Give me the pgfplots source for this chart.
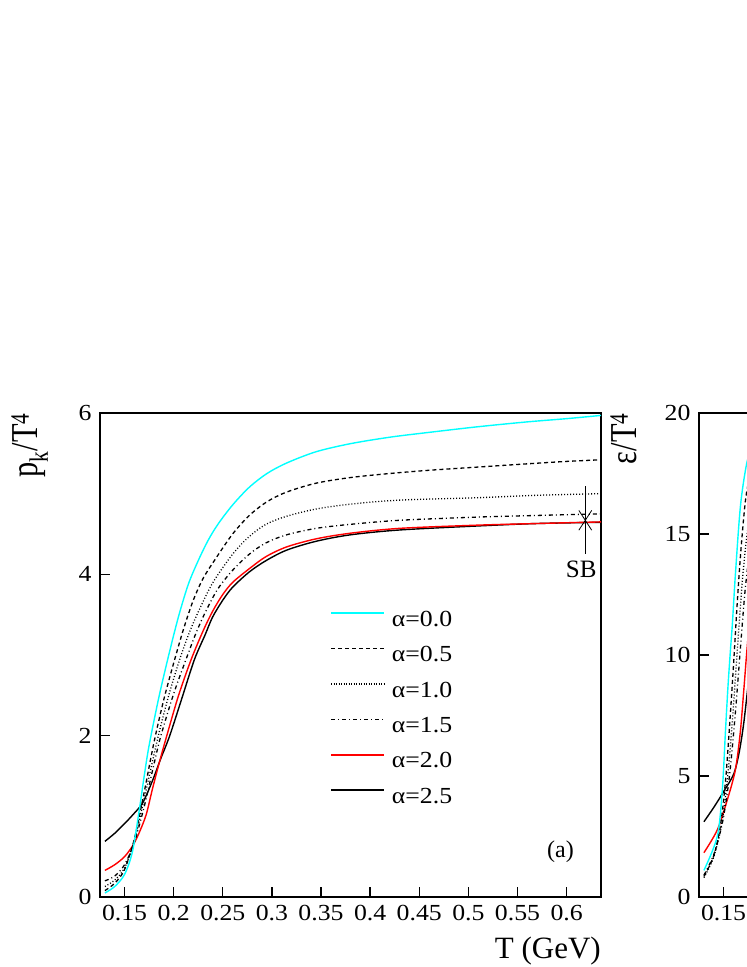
\documentclass[border=0pt]{standalone}
\usepackage{fontspec}
\setmainfont{Liberation Serif}
\newfontfamily\wide{Liberation Serif}[FakeStretch=1.12]
\newfontfamily\narrow{Liberation Serif}[FakeStretch=0.8]
\usepackage{pgfplots}
\pgfplotsset{compat=1.18}
\definecolor{pcyan}{RGB}{0,255,255}
\definecolor{pred}{RGB}{255,0,0}

\pgfplotsset{
  myax/.style={
    scale only axis, width=501pt, height=484pt,
    xmin=0.125, xmax=0.635,
    axis line style={line width=1.6pt},
    tick align=inside, xtick pos=left, ytick pos=left,
    major tick length=10pt,
    every tick/.style={line width=1.4pt, black},
    tick label style={font=\wide\fontsize{23}{23}\selectfont},
    xticklabel style={yshift=-5pt},
    yticklabel style={xshift=-5pt},
    xtick={0.15,0.2,0.25,0.3,0.35,0.4,0.45,0.5,0.55,0.6},
    xticklabels={0.15,0.2,0.25,0.3,0.35,0.4,0.45,0.5,0.55,0.6},
    minor tick num=0,
    clip=true,
    label style={inner sep=0pt},
    ylabel style={font=\narrow\fontsize{38}{38}\selectfont, at={(axis description cs:-0.124,1)}, anchor=base east},
    xlabel style={font=\fontsize{31}{31}\selectfont, at={(axis description cs:1,0)}, anchor=north east, yshift=-40pt},
  },
  c0/.style={pcyan, line width=1.4pt},
  c1/.style={black, line width=1.3pt, dash pattern=on 4pt off 3pt},
  c2/.style={black, line width=1.3pt, dash pattern=on 1pt off 2pt},
  c3/.style={black, line width=1.3pt, dash pattern=on 4pt off 3pt on 1pt off 3pt},
  c4/.style={pred, line width=1.4pt},
  c5/.style={black, line width=1.4pt},
}

\begin{document}
\begin{tikzpicture}
\useasboundingbox (0pt,0pt) rectangle (747pt,967pt);

% ---------------- panel (a) ----------------
\begin{axis}[myax, at={(100pt,70pt)}, anchor=south west,
  ymin=0, ymax=6, ytick={0,2,4,6}, yticklabels={0,2,4,6},
  xlabel={T (GeV)}, ylabel={p\textsubscript{k}/T\textsuperscript{4}},
  legend style={draw=none, fill=none, inner sep=0pt,
    at={(rel axis cs:0.459,0.595)}, anchor=north west,
    font=\wide\fontsize{23}{23}\selectfont,
    nodes={inner sep=0pt, text height=17pt, text depth=6pt},
    row sep=12.4pt,
    /tikz/every odd column/.append style={column sep=7pt}},
  legend cell align=left,
]
\addplot[c5, smooth, forget plot] table {
0.130 0.69
0.140 0.79
0.150 0.91
0.1585 1.02
0.1686 1.17
0.1787 1.45
0.187 1.72
0.196 2.00
0.208 2.45
0.221 2.94
0.232 3.25
0.2396 3.47
0.250 3.68
0.260 3.84
0.277 4.03
0.294 4.17
0.315 4.30
0.345 4.41
0.380 4.49
0.430 4.55
0.510 4.60
0.570 4.63
0.635 4.645
};
\addplot[c4, smooth, forget plot] table {
0.130 0.33
0.140 0.40
0.150 0.50
0.1585 0.64
0.165 0.80
0.172 1.02
0.178 1.32
0.185 1.65
0.193 2.00
0.205 2.50
0.218 2.95
0.230 3.30
0.240 3.55
0.250 3.75
0.260 3.90
0.277 4.07
0.294 4.22
0.315 4.34
0.345 4.44
0.380 4.51
0.430 4.57
0.510 4.61
0.570 4.63
0.635 4.65
};
\addplot[c3, smooth, forget plot] table {
0.130 0.20
0.140 0.26
0.150 0.40
0.160 0.68
0.170 1.12
0.180 1.65
0.187 2.00
0.200 2.52
0.213 2.96
0.223 3.28
0.233 3.55
0.245 3.82
0.260 4.05
0.277 4.25
0.294 4.39
0.315 4.49
0.345 4.57
0.380 4.62
0.430 4.67
0.510 4.71
0.570 4.73
0.635 4.75
};
\addplot[c2, smooth, forget plot] table {
0.130 0.13
0.140 0.21
0.150 0.36
0.160 0.70
0.170 1.22
0.184 1.98
0.195 2.50
0.206 2.94
0.216 3.28
0.226 3.56
0.240 3.90
0.260 4.25
0.277 4.47
0.294 4.62
0.315 4.72
0.345 4.81
0.380 4.87
0.430 4.92
0.510 4.95
0.570 4.98
0.635 5.00
};
\addplot[c1, smooth, forget plot] table {
0.130 0.08
0.140 0.17
0.150 0.34
0.160 0.72
0.170 1.30
0.180 1.92
0.190 2.45
0.200 2.90
0.210 3.32
0.220 3.68
0.230 3.95
0.243 4.20
0.260 4.50
0.277 4.73
0.295 4.90
0.315 5.02
0.345 5.13
0.380 5.20
0.420 5.25
0.460 5.29
0.510 5.33
0.560 5.37
0.600 5.40
0.635 5.42
};
\addplot[c0, smooth, forget plot] table {
0.130 0.05
0.140 0.13
0.150 0.28
0.158 0.56
0.165 1.08
0.170 1.50
0.175 1.88
0.185 2.48
0.195 3.00
0.205 3.48
0.215 3.88
0.225 4.17
0.235 4.42
0.245 4.62
0.260 4.86
0.277 5.08
0.295 5.25
0.315 5.38
0.345 5.52
0.380 5.62
0.420 5.70
0.460 5.76
0.510 5.83
0.560 5.89
0.600 5.93
0.635 5.97
};
% SB point
\addplot[black, line width=0.8pt, mark=x, mark size=14pt,
  mark options={xscale=0.65, solid, line width=0.8pt}, forget plot,
  error bars/.cd, y dir=both, y explicit, error mark=none,
  error bar style={line width=0.8pt}]
  coordinates {(0.619,4.67) +- (0,0.42)};
\node[font=\fontsize{25}{25}\selectfont, inner sep=0pt, xshift=-4pt, yshift=-49pt] at (axis cs:0.619,4.67) {SB};
\node[font=\fontsize{24}{24}\selectfont, inner sep=0pt] at (axis cs:0.5937,0.56) {(a)};

\addlegendimage{legend image code/.code={\draw[pcyan, line width=1.8pt] (0pt,7.5pt) -- (53pt,7.5pt);}}
\addlegendentry{α=0.0}
\addlegendimage{legend image code/.code={\draw[black, line width=1.1pt, dash pattern=on 4pt off 3pt] (0pt,7.5pt) -- (53pt,7.5pt);}}
\addlegendentry{α=0.5}
\addlegendimage{legend image code/.code={\draw[black, line width=1.1pt, dash pattern=on 1pt off 1.5pt] (0pt,7.5pt) -- (53pt,7.5pt);}}
\addlegendentry{α=1.0}
\addlegendimage{legend image code/.code={\draw[black, line width=1.1pt, dash pattern=on 4pt off 3pt on 1pt off 3pt] (0pt,7.5pt) -- (53pt,7.5pt);}}
\addlegendentry{α=1.5}
\addlegendimage{legend image code/.code={\draw[pred, line width=1.6pt] (0pt,7.5pt) -- (53pt,7.5pt);}}
\addlegendentry{α=2.0}
\addlegendimage{legend image code/.code={\draw[black, line width=1.6pt] (0pt,7.5pt) -- (53pt,7.5pt);}}
\addlegendentry{α=2.5}
\end{axis}

% ---------------- panel (b) ----------------
\begin{axis}[myax, at={(699pt,70pt)}, anchor=south west,
  ymin=0, ymax=20, ytick={0,5,10,15,20}, yticklabels={0,5,10,15,20},
  xlabel={T (GeV)}, ylabel={ε/T\textsuperscript{4}},
]
\addplot[c5, smooth] table {
0.130 3.11
0.140 3.70
0.150 4.35
0.1605 5.10
0.166 6.00
0.1706 7.20
0.1757 9.00
0.182 11.0
0.190 12.6
0.200 13.8
0.250 14.6
0.300 14.5
0.635 14.1
};
\addplot[c4, smooth] table {
0.130 1.83
0.1436 2.77
0.1537 4.00
0.162 5.25
0.167 6.80
0.1706 8.55
0.174 10.3
0.178 12.0
0.185 13.8
0.200 15.3
0.300 14.8
0.635 14.2
};
\addplot[c3, smooth] table {
0.130 0.90
0.140 1.75
0.149 3.10
0.156 5.00
0.162 7.60
0.167 10.2
0.172 12.7
0.177 14.3
0.185 15.6
0.200 16.2
0.300 15.1
0.635 14.5
};
\addplot[c2, smooth] table {
0.130 0.80
0.140 1.65
0.148 3.00
0.154 4.90
0.159 7.30
0.164 10.2
0.169 13.0
0.174 15.0
0.180 16.3
0.190 17.0
0.200 17.1
0.300 16.0
0.635 15.3
};
\addplot[c1, smooth] table {
0.130 0.85
0.140 1.70
0.147 3.00
0.152 4.80
0.156 7.00
0.160 9.50
0.164 12.2
0.168 14.5
0.173 16.6
0.180 17.8
0.190 18.2
0.200 18.2
0.300 17.2
0.635 16.6
};
\addplot[c0, smooth] table {
0.130 1.10
0.1436 2.50
0.1487 4.40
0.152 6.90
0.1545 8.70
0.157 10.2
0.159 11.3
0.162 13.3
0.1673 16.2
0.174 18.0
0.180 18.5
0.190 18.8
0.200 18.9
0.250 18.6
0.300 18.2
0.400 17.9
0.500 17.8
0.635 17.9
};
\end{axis}
\end{tikzpicture}
\end{document}
